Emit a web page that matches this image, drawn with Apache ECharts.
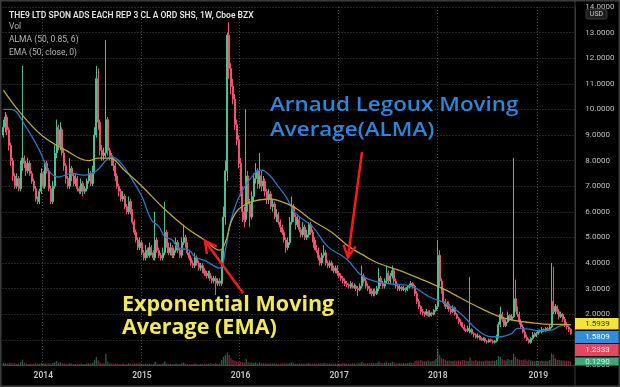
<!DOCTYPE html>
<html><head><meta charset="utf-8">
<script src="https://cdn.jsdelivr.net/npm/echarts@6/dist/echarts.min.js"></script>
<style>html,body{margin:0;padding:0;background:#000;}#c{width:620px;height:387px;}</style>
</head><body><div id="c"></div>
<script>
// ---------- data (weekly candles, THE9 LTD ADS, USD) ----------
const startWeek = '2013-08-12';
const opens = [
9.0,9.3,9.7,9.2,8.6,8.0,7.4,7.0,7.3,6.9, 7.8,8.1,7.9,7.6,7.9,7.5,7.2,6.9,6.5,6.4,
6.8,7.5,7.0,7.9,7.6,6.9,6.4,7.0,8.3,9.3, 8.6,9.2,8.3,7.8,7.3,7.0,7.7,7.4,7.1,7.3,
6.9,6.8,7.1,6.8,6.9,7.2,7.5,7.1,7.6,9.0, 11.2,9.5,8.4,8.2,8.3,9.6,8.4,8.2,8.0,7.8,
7.4,7.0,6.8,6.5,6.6,6.2,6.0,6.4,6.0,5.6, 5.2,4.9,4.6,4.8,4.4,4.2,4.5,4.3,4.6,4.4,
4.2,4.9,4.5,4.3,4.2,4.4,5.2,4.7,4.4,4.6, 4.3,4.5,4.8,4.5,4.3,4.8,5.0,4.7,4.4,4.2,
4.0,3.9,4.2,4.0,3.8,3.9,3.7,3.6,3.5,3.6, 3.4,3.3,3.4,3.2,3.3,3.2,4.2,5.8,7.6,12.9,
11.6,10.9,10.4,9.4,8.8,7.9,6.8,6.0,5.7,7.4, 6.3,5.8,6.6,7.3,7.6,7.1,7.4,7.0,7.2,6.8,
6.5,6.7,6.2,6.3,5.8,5.9,5.6,5.4,5.2,4.9, 4.6,4.8,5.6,6.2,5.8,5.5,5.7,5.3,5.1,5.4,
5.0,5.1,5.5,5.2,4.9,4.6,4.5,4.2,4.0,4.3, 4.4,4.0,3.9,4.0,3.8,3.7,3.8,3.6,3.5,3.4,
3.3,3.2,3.15,3.1,3.2,3.05,3.1,3.0,2.95,3.1, 3.5,3.3,3.1,3.0,2.9,2.8,2.9,2.8,3.0,3.4,
3.2,3.1,3.3,3.6,3.3,3.5,3.7,3.3,3.1,3.0, 3.05,2.95,3.0,2.95,3.05,3.1,3.2,3.1,2.8,2.5,
2.3,2.1,2.05,2.0,2.1,1.95,2.05,2.0,2.15,2.3, 4.3,3.3,2.9,2.5,2.3,2.4,2.2,2.1,2.25,2.0,
1.85,1.7,1.65,1.5,1.4,1.35,1.3,1.4,1.25,1.2, 1.1,1.15,1.05,1.0,1.05,0.95,0.92,1.0,0.95,0.9,
0.95,1.1,1.6,2.0,1.8,1.55,1.7,1.95,1.8,1.9, 2.6,2.2,2.0,1.7,1.5,1.3,1.1,1.0,0.9,1.05,
1.2,1.15,1.25,1.35,1.3,1.4,1.35,1.45,1.4,1.5, 2.5,2.1,2.3,2.1,1.9,2.0,1.8,1.6,1.5,1.4
];
const highs = [
9.6,9.9,9.8,9.3,8.7,8.1,7.5,7.5,7.4,8.0, 11.7,8.2,8.0,8.1,8.0,7.6,7.3,7.0,6.6,6.9,
7.7,7.6,8.0,8.0,7.7,7.0,7.2,8.6,9.6,9.4, 9.5,9.3,8.5,7.9,7.4,8.1,7.8,7.5,7.5,7.4,
7.0,7.3,7.2,7.0,7.3,7.7,7.6,7.8,9.3,11.7, 11.6,9.6,8.6,8.5,12.7,9.7,8.5,8.3,8.1,7.9,
7.5,7.1,6.9,6.8,6.7,6.3,6.6,6.5,6.1,5.7, 5.3,5.0,5.0,4.9,4.5,4.7,4.6,4.8,4.7,4.5,
6.0,5.0,4.6,4.4,4.6,6.4,5.3,4.8,4.8,4.7, 4.6,5.0,4.9,4.6,5.0,5.5,5.1,4.8,4.5,4.3,
4.1,4.4,4.3,4.1,4.0,4.0,3.8,3.7,3.7,3.7, 3.5,3.5,3.5,3.4,3.4,4.5,6.2,8.0,13.0,13.4,
11.8,11.2,10.6,9.6,9.0,8.1,7.0,6.2,10.0,7.6, 6.5,6.8,7.5,7.9,7.7,8.3,7.6,7.4,7.3,6.9,
6.9,6.8,6.5,6.4,6.1,6.0,5.7,5.5,5.3,5.0, 5.0,5.8,6.6,6.3,5.9,5.9,5.8,5.4,5.6,5.5,
5.3,5.6,5.6,5.3,5.0,4.7,4.6,4.3,4.4,4.7, 4.5,4.1,4.1,4.1,3.9,3.9,3.9,3.7,3.6,3.5,
3.4,3.3,3.2,3.3,3.25,3.2,3.15,3.1,3.2,3.9, 3.6,3.4,3.2,3.1,3.0,3.0,3.0,3.1,3.8,3.5,
3.3,3.4,3.9,3.7,3.6,3.9,3.8,3.4,3.2,3.15, 3.1,3.1,3.05,3.1,3.2,3.3,3.25,3.15,2.9,2.6,
2.35,2.2,2.1,2.2,2.15,2.15,2.1,2.2,2.4,4.9, 4.5,3.4,3.0,2.6,2.5,2.5,2.3,2.35,2.3,2.05,
1.9,1.8,1.7,1.6,1.45,1.55,3.45,1.45,1.3,1.25, 1.25,1.2,1.1,1.1,1.1,1.0,1.05,1.05,1.0,1.0,
1.2,1.7,2.3,2.1,1.9,1.8,2.1,2.0,2.0,8.1, 3.35,2.3,2.1,1.8,1.6,1.4,1.2,1.05,1.1,1.3,
1.3,1.3,1.4,1.4,1.5,1.45,1.5,1.5,1.6,4.0, 3.86,2.4,2.35,2.2,2.1,2.05,1.9,1.7,1.55,1.45
];
const lows = [
8.9,9.1,9.0,8.4,7.8,7.2,6.9,6.9,6.8,6.8, 7.6,7.7,7.4,7.5,7.4,7.1,6.8,6.4,6.3,6.3,
6.7,6.9,6.9,7.5,6.8,6.3,6.3,6.9,8.1,8.4, 8.4,8.2,7.6,7.1,6.9,6.9,7.2,7.0,7.0,6.8,
6.7,6.7,6.6,6.7,6.8,7.1,7.0,7.0,7.5,8.9, 9.2,8.2,8.0,8.0,8.1,8.2,8.0,7.8,7.6,7.2,
6.9,6.6,6.4,6.4,6.1,5.9,5.9,5.9,5.5,5.1, 4.8,4.5,4.5,4.3,4.1,4.1,4.2,4.2,4.3,4.1,
4.1,4.4,4.2,4.1,4.1,4.3,4.6,4.3,4.3,4.2, 4.2,4.4,4.4,4.2,4.2,4.7,4.6,4.3,4.1,3.9,
3.8,3.8,3.9,3.7,3.7,3.6,3.5,3.4,3.4,3.3, 3.2,3.2,2.75,3.1,3.1,3.1,4.0,5.5,7.2,11.2,
10.6,10.2,9.2,8.6,7.7,6.6,5.6,5.4,5.6,6.0, 5.4,5.7,6.4,7.1,6.9,6.9,6.8,6.8,6.6,6.3,
6.3,6.1,6.0,5.7,5.6,5.5,5.2,5.1,4.8,4.4, 4.5,4.7,5.5,5.6,5.3,5.4,5.2,5.0,5.0,4.9,
4.9,5.0,5.1,4.8,4.5,4.4,4.1,3.9,3.9,4.2, 3.9,3.8,3.8,3.7,3.6,3.6,3.5,3.4,3.3,3.2,
3.1,3.05,3.0,3.0,3.0,3.0,2.9,2.7,2.9,3.0, 3.2,3.0,2.9,2.8,2.7,2.7,2.7,2.75,2.9,3.1,
3.0,3.0,3.2,3.2,3.2,3.4,3.2,3.0,2.9,2.9, 2.9,2.9,2.85,2.9,3.0,3.05,3.0,2.7,2.4,2.2,
2.0,1.95,1.9,1.95,1.9,1.9,1.9,1.95,2.1,2.2, 3.1,2.8,2.4,2.2,2.2,2.1,2.0,2.05,1.95,1.8,
1.6,1.55,1.45,1.35,1.3,1.3,1.25,1.2,1.1,1.05, 1.05,1.0,0.95,0.95,0.9,0.85,0.88,0.9,0.85,0.85,
0.9,1.05,1.5,1.7,1.5,1.5,1.65,1.75,1.75,1.85, 2.1,1.9,1.6,1.45,1.25,1.05,0.95,0.85,0.85,1.0,
1.1,1.1,1.2,1.25,1.25,1.3,1.3,1.35,1.35,1.45, 2.0,2.0,2.0,1.8,1.85,1.7,1.5,1.4,1.3,1.2
];
const closes = [
9.3,9.7,9.2,8.6,8.0,7.4,7.0,7.3,6.9,7.8, 8.1,7.9,7.6,7.9,7.5,7.2,6.9,6.5,6.4,6.8,
7.5,7.0,7.9,7.6,6.9,6.4,7.0,8.3,9.3,8.6, 9.2,8.3,7.8,7.3,7.0,7.7,7.4,7.1,7.3,6.9,
6.8,7.1,6.8,6.9,7.2,7.5,7.1,7.6,9.0,11.2, 9.5,8.4,8.2,8.3,9.6,8.4,8.2,8.0,7.8,7.4,
7.0,6.8,6.5,6.6,6.2,6.0,6.4,6.0,5.6,5.2, 4.9,4.6,4.8,4.4,4.2,4.5,4.3,4.6,4.4,4.2,
4.9,4.5,4.3,4.2,4.4,5.2,4.7,4.4,4.6,4.3, 4.5,4.8,4.5,4.3,4.8,5.0,4.7,4.4,4.2,4.0,
3.9,4.2,4.0,3.8,3.9,3.7,3.6,3.5,3.6,3.4, 3.3,3.4,3.2,3.3,3.2,4.2,5.8,7.6,12.9,11.6,
10.9,10.4,9.4,8.8,7.9,6.8,6.0,5.7,7.4,6.3, 5.8,6.6,7.3,7.6,7.1,7.4,7.0,7.2,6.8,6.5,
6.7,6.2,6.3,5.8,5.9,5.6,5.4,5.2,4.9,4.6, 4.8,5.6,6.2,5.8,5.5,5.7,5.3,5.1,5.4,5.0,
5.1,5.5,5.2,4.9,4.6,4.5,4.2,4.0,4.3,4.4, 4.0,3.9,4.0,3.8,3.7,3.8,3.6,3.5,3.4,3.3,
3.2,3.15,3.1,3.2,3.05,3.1,3.0,2.95,3.1,3.5, 3.3,3.1,3.0,2.9,2.8,2.9,2.8,3.0,3.4,3.2,
3.1,3.3,3.6,3.3,3.5,3.7,3.3,3.1,3.0,3.05, 2.95,3.0,2.95,3.05,3.1,3.2,3.1,2.8,2.5,2.3,
2.1,2.05,2.0,2.1,1.95,2.05,2.0,2.15,2.3,4.3, 3.3,2.9,2.5,2.3,2.4,2.2,2.1,2.25,2.0,1.85,
1.7,1.65,1.5,1.4,1.35,1.45,1.4,1.25,1.2,1.1, 1.15,1.05,1.0,1.05,0.95,0.92,1.0,0.95,0.9,0.95,
1.1,1.6,2.0,1.8,1.55,1.7,1.95,1.8,1.9,2.6, 2.2,2.0,1.7,1.5,1.3,1.1,1.0,0.9,1.05,1.2,
1.15,1.25,1.35,1.3,1.4,1.35,1.45,1.4,1.5,2.5, 2.1,2.3,2.1,1.9,2.0,1.8,1.6,1.5,1.4,1.2333
];
const volumes = [
0.8,0.6,0.5,0.6,0.7,0.5,0.6,0.4,0.5,0.9, 1.6,0.7,0.5,0.4,0.5,0.4,0.5,0.6,0.5,0.5,
0.7,0.5,0.6,0.5,0.6,0.5,0.7,0.9,1.2,0.7, 0.9,0.6,0.5,0.5,0.4,0.6,0.5,0.4,0.4,0.5,
0.4,0.5,0.4,0.4,0.5,0.6,0.5,0.7,1.5,2.4, 1.4,0.8,0.6,0.6,3.2,1.0,0.6,0.5,0.5,0.5,
0.5,0.4,0.4,0.5,0.4,0.4,0.6,0.5,0.5,0.6, 0.6,0.5,0.6,0.5,0.4,0.5,0.4,0.5,0.4,0.4,
1.0,0.6,0.4,0.4,0.5,1.1,0.6,0.4,0.5,0.4, 0.4,0.5,0.4,0.4,0.6,0.8,0.5,0.4,0.4,0.4,
0.4,0.5,0.4,0.4,0.4,0.4,0.5,0.5,0.4,0.5, 0.5,0.4,0.7,0.4,0.5,1.5,2.4,2.8,3.6,3.0,
2.0,1.5,1.3,1.1,1.0,1.0,0.9,0.8,1.8,0.9, 0.8,0.8,0.7,0.8,0.6,0.9,0.6,0.6,0.6,0.5,
0.5,0.5,0.5,0.6,0.5,0.5,0.5,0.6,0.6,0.6, 0.5,0.7,0.9,0.6,0.5,0.5,0.5,0.5,0.5,0.5,
0.5,0.6,0.5,0.5,0.6,0.5,0.6,0.6,0.5,0.7, 0.6,0.5,0.5,0.5,0.5,0.5,0.5,0.5,0.5,0.6,
0.6,0.5,0.5,0.5,0.6,0.5,0.5,0.7,0.6,1.0, 0.7,0.6,0.6,0.6,0.7,0.6,0.6,0.7,1.1,0.7,
0.6,0.8,1.0,0.7,0.7,1.0,0.8,0.6,0.6,0.6, 0.6,0.6,0.6,0.6,0.7,0.8,0.7,1.2,1.4,1.3,
1.5,1.2,1.2,1.1,1.4,1.1,1.2,1.3,1.8,4.5, 3.0,2.0,1.8,1.5,1.3,1.4,1.3,1.2,1.4,1.3,
1.4,1.3,1.5,1.4,1.3,1.2,2.2,1.4,1.3,1.5, 1.2,1.3,1.2,1.1,1.3,1.4,1.2,1.2,1.3,1.2,
1.5,2.6,2.4,1.8,1.5,1.4,1.8,1.5,1.6,3.2, 2.4,1.8,1.6,1.5,1.6,1.7,1.4,1.6,1.4,1.3,
1.2,1.3,1.2,1.2,1.3,1.2,1.3,1.2,1.5,3.4, 3.0,2.0,1.6,1.5,1.4,1.4,1.3,1.3,1.2,1.2
];
// indicator lines (week number since startWeek, value)
const emaWeeks  = [0,8,20,33,45,50,56,64,73,85,96,106,114,117,120,124,131,140,150,155,162,173,182,191,198,208,215,224,233,250,264,280,290,296,299];
const emaValues = [10.75,9.95,9.0,8.4,8.0,8.1,8.1,7.6,7.0,6.1,5.4,4.9,4.5,4.8,5.6,6.1,6.4,6.5,6.3,6.1,5.7,5.2,4.65,4.25,3.98,3.73,3.53,3.25,2.95,2.29,1.85,1.65,1.6,1.6,1.594];
const almaWeeks  = [0,4,12,19,24,29,36,43,49,54,57,62,68,73,78,82,85,89,92,98,101,106,114,117,120,125,133,136,141,145,149,154,163,171,181,189,198,206,215,224,233,241,250,257,262,268,271,277,282,289,294,299];
const almaValues = [10.0,10.0,9.3,8.4,7.6,7.36,7.5,7.43,7.6,8.0,8.15,7.9,7.24,6.6,5.68,5.42,5.03,4.9,4.6,4.5,4.24,4.1,3.8,4.5,5.68,6.7,7.55,7.63,7.37,6.98,6.58,5.94,5.42,4.64,4.15,3.5,3.25,3.17,3.1,2.7,2.42,2.03,1.38,1.12,1.12,1.25,1.45,1.42,1.35,1.38,1.55,1.581];
const lastValues = ['1.5939','1.5809','1.2333','0.1290']; // EMA, ALMA, close, volume (M)
const titleLines = ['THE9 LTD SPON ADS EACH REP 3 CL A ORD SHS, 1W, Cboe BZX','Vol','ALMA (50, 0.85, 6)','EMA (50, close, 0)'];

// ---------- build ----------
const DAY = 86400000;
const t0 = Date.parse(startWeek + 'T00:00:00Z');
const weeks = [];
for (let i = 0; i < closes.length + 2; i++) weeks.push(new Date(t0 + i * 7 * DAY).toISOString().slice(0, 10));
const ohlc = closes.map((c, i) => [opens[i], c, lows[i], highs[i]]);
const isYearStart = (idx, val) => { const d = new Date(val + 'T00:00:00Z'); return d.getUTCMonth() === 0 && d.getUTCDate() <= 7; };

const UP = '#4cbf8f', DOWN = '#e8566f';
const gridCol = '#474747';
const chart = echarts.init(document.getElementById('c'), null, {renderer: 'canvas'});

const redArrow = (x1, y1, x2, y2) => {
  const dx = x2 - x1, dy = y2 - y1, L = Math.hypot(dx, dy);
  const ux = -dx / L, uy = -dy / L, a = 28 * Math.PI / 180, h = 13;
  const p1 = [x2 + h * (ux * Math.cos(a) - uy * Math.sin(a)), y2 + h * (ux * Math.sin(a) + uy * Math.cos(a))];
  const p2 = [x2 + h * (ux * Math.cos(a) + uy * Math.sin(a)), y2 + h * (-ux * Math.sin(a) + uy * Math.cos(a))];
  return [
    {type: 'line', z: 100, shape: {x1, y1, x2, y2}, style: {stroke: '#f21c1c', lineWidth: 2.5}},
    {type: 'polyline', z: 100, shape: {points: [p1, [x2, y2], p2]}, style: {stroke: '#f21c1c', lineWidth: 2.5, fill: null}}
  ];
};
const tag = (y, h, fill, color, text) => ([
  {type: 'rect', z: 110, shape: {x: 575, y, width: 45, height: h}, style: {fill}},
  {type: 'text', z: 111, x: 597.5, y: y + h / 2, style: {text, fill: color, fontSize: 8, fontFamily: 'Roboto', align: 'center', verticalAlign: 'middle'}}
]);
const bigText = (x, y, text, fill, size, weight, sx) => ({type: 'text', z: 100, x, y, scaleX: sx,
  style: {text, fill, fontSize: size, fontWeight: weight, fontFamily: 'Open Sans', verticalAlign: 'middle'}});

const graphics = [
  {type: 'rect', z: 120, shape: {x: 0.75, y: 0.75, width: 618.5, height: 385.5}, style: {fill: null, stroke: '#3c3c3c', lineWidth: 1.5}},
  {type: 'line', z: 90, shape: {x1: 575, y1: 0, x2: 575, y2: 387}, style: {stroke: '#3a3a3a', lineWidth: 1}},
  {type: 'rect', z: 112, shape: {x: 586, y: 9, width: 21, height: 10, r: 2}, style: {fill: '#1e1e1e', stroke: '#444', lineWidth: 0.8}},
  {type: 'text', z: 113, x: 596.5, y: 14, style: {text: 'USD', fill: '#c8c8c8', fontSize: 7, fontFamily: 'Roboto', align: 'center', verticalAlign: 'middle'}},
  {type: 'text', z: 100, x: 9, y: 15.5, style: {text: titleLines[0], fill: '#e4e4e4', fontSize: 8.5, fontWeight: 600, fontFamily: 'Roboto', verticalAlign: 'middle'}},
  {type: 'text', z: 100, x: 9, y: 26.5, style: {text: titleLines[1], fill: '#b8b8b8', fontSize: 8.5, fontFamily: 'Roboto', verticalAlign: 'middle'}},
  {type: 'text', z: 100, x: 9, y: 40, style: {text: titleLines[2], fill: '#b8b8b8', fontSize: 8.5, fontFamily: 'Roboto', verticalAlign: 'middle'}},
  {type: 'text', z: 100, x: 9, y: 52.5, style: {text: titleLines[3], fill: '#b8b8b8', fontSize: 8.5, fontFamily: 'Roboto', verticalAlign: 'middle'}},
  bigText(270, 105.5, 'Arnaud Legoux Moving', '#2f86d8', 20, 600, 1.12),
  bigText(270, 130, 'Average(ALMA)', '#2f86d8', 20, 600, 1.12),
  bigText(122, 305.5, 'Exponential Moving', '#f2e85c', 20.5, 'bold', 1.05),
  bigText(122, 328, 'Average (EMA)', '#f2e85c', 20.5, 'bold', 1.05),
  ...redArrow(362, 152, 348, 257),
  ...redArrow(243, 293, 205, 241),
  ...tag(318, 11.5, '#f5e23a', '#333', lastValues[0]),
  ...tag(331, 12, '#2b8ee0', '#fff', lastValues[1]),
  ...tag(344, 12, '#e84660', '#fff', lastValues[2]),
  ...tag(357.5, 8, '#3da77c', '#e8e8e8', lastValues[3])
];

chart.setOption({
  animation: false,
  backgroundColor: '#000',
  grid: {left: 2.5, right: 44.7, top: 7, bottom: 21.6, containLabel: false, outerBoundsMode: 'none'},
  xAxis: {
    type: 'category', data: weeks, boundaryGap: true,
    axisLine: {show: true, lineStyle: {color: '#3a3a3a'}},
    axisTick: {show: false},
    axisLabel: {interval: isYearStart, formatter: v => v.slice(0, 4), color: '#c8c8c8', fontSize: 8.5, fontWeight: 600, fontFamily: 'Roboto', margin: 6},
    splitLine: {show: true, interval: isYearStart, lineStyle: {color: gridCol, type: [1, 2]}}
  },
  yAxis: [
    {type: 'value', position: 'right', min: 0, max: 14, interval: 1,
     axisLine: {show: true, lineStyle: {color: '#3a3a3a'}}, axisTick: {show: false},
     axisLabel: {formatter: v => v.toFixed(4), color: '#c0c0c0', fontSize: 8, fontFamily: 'Roboto', margin: 10},
     splitLine: {show: true, lineStyle: {color: gridCol, type: [1, 2]}}},
    {type: 'value', min: 0, max: 100, show: false, splitLine: {show: false}}
  ],
  series: [
    {type: 'bar', yAxisIndex: 1, data: volumes, barWidth: '70%', silent: true, z: 1,
     itemStyle: {color: p => closes[p.dataIndex] >= opens[p.dataIndex] ? 'rgba(76,191,143,0.5)' : 'rgba(232,86,111,0.5)'}},
    {type: 'candlestick', data: ohlc, barWidth: '80%', z: 2,
     itemStyle: {color: UP, color0: DOWN, borderColor: UP, borderColor0: DOWN, borderWidth: 1}},
    {type: 'line', data: almaWeeks.map((w, i) => [w, almaValues[i]]), smooth: 0.4, symbol: 'none', z: 3,
     lineStyle: {color: '#2e78be', width: 1.3}},
    {type: 'line', data: emaWeeks.map((w, i) => [w, emaValues[i]]), smooth: 0.4, symbol: 'none', z: 3,
     lineStyle: {color: '#b9a63e', width: 1.3}}
  ],
  graphic: graphics
});
</script></body></html>
